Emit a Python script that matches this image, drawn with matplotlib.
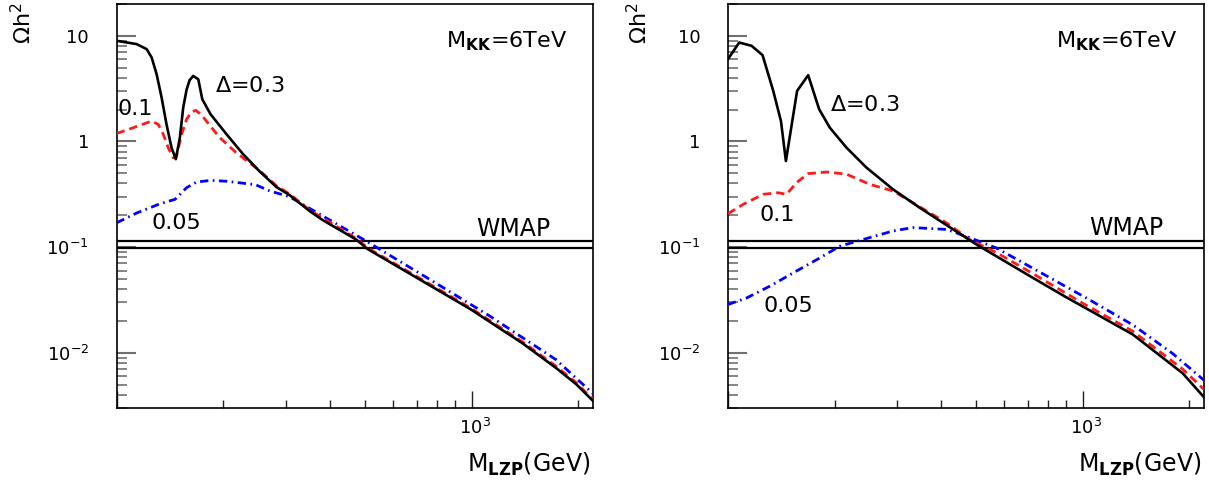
import matplotlib
matplotlib.use("Agg")
import matplotlib.pyplot as plt
from matplotlib.ticker import FixedLocator, NullFormatter, LogLocator
from matplotlib.transforms import ScaledTranslation

# ---------------- data ----------------
# Left panel
xl_black = [100, 113.8, 121.5, 125.5, 129.6, 133.9, 138.2, 142.8, 146.8, 150.7, 154, 157.4, 160.5,
            164.3, 169.8, 174.3, 183.9, 204, 227, 253, 282, 307, 350, 381, 473, 510, 728, 994,
            1392, 1735, 1975, 2178, 2200]
yl_black = [8.97, 8.35, 7.48, 6.23, 4.33, 2.59, 1.45, 0.87, 0.68, 1.09, 2.09, 3.09, 3.8,
            4.17, 3.88, 2.51, 1.81, 1.17, 0.76, 0.52, 0.37, 0.311, 0.219, 0.18, 0.118, 0.0957, 0.0476, 0.0258,
            0.0123, 0.00713, 0.00502, 0.00362, 0.0035]

xl_red = [100, 111.4, 125.5, 131, 135.3, 139.8, 144.3, 147.5, 152.4, 157.4, 162, 167, 173, 179,
          195, 217.5, 253, 282, 307, 350, 473, 510, 728, 994, 1392, 1735, 1975, 2200]
yl_red = [1.19, 1.35, 1.56, 1.45, 1.17, 0.87, 0.70, 0.73, 1.17, 1.62, 1.88, 1.97, 1.80, 1.56,
          1.09, 0.78, 0.53, 0.38, 0.318, 0.224, 0.121, 0.098, 0.049, 0.0265, 0.0127, 0.0074, 0.0052, 0.0036]

xl_blue = [100, 113.8, 132.4, 146, 157.4, 168, 184, 204, 246, 270, 307, 381, 505, 777, 1127, 1730, 2200]
yl_blue = [0.17, 0.21, 0.257, 0.283, 0.365, 0.413, 0.428, 0.42, 0.39, 0.34, 0.30, 0.197, 0.114,
           0.0476, 0.0222, 0.0086, 0.0041]

# Right panel
xr_black = [100, 107.6, 116.6, 125.2, 134.2, 141.1, 145.7, 156.7, 168.4, 180.8, 193.8, 216, 245.9,
            292.2, 347.4, 501.9, 724.4, 900, 1000, 1386, 1916, 2200]
yr_black = [6.01, 8.64, 8.04, 6.56, 3.01, 1.56, 0.653, 3.01, 4.24, 2.02, 1.35, 0.873, 0.565,
            0.352, 0.236, 0.106, 0.0512, 0.0335, 0.0275, 0.0149, 0.0064, 0.0038]

xr_red = [100, 110.4, 125.7, 138.6, 146.3, 156, 168.3, 190, 216, 251, 292, 331, 413, 480, 571,
          725, 1000, 1386, 1916, 2200]
yr_red = [0.207, 0.254, 0.316, 0.327, 0.316, 0.407, 0.496, 0.514, 0.49, 0.393, 0.34, 0.265, 0.17,
          0.118, 0.089, 0.056, 0.0295, 0.0160, 0.0070, 0.0045]

xr_blue = [100, 112.9, 131.3, 156, 181.6, 206.8, 251, 292, 332, 414, 480, 570, 707, 1025,
           1388, 1798, 2200]
yr_blue = [0.0286, 0.033, 0.0427, 0.0593, 0.079, 0.102, 0.123, 0.142, 0.153, 0.147, 0.123, 0.0985,
           0.066, 0.0330, 0.0183, 0.0098, 0.0055]

wmap_band = [0.0986, 0.113]

ytick_vals = [0.01, 0.1, 1, 10]
ytick_labels = [r"$10^{-2}$", r"$10^{-1}$", "1", "10"]
xtick_major = [100, 1000]
xtick_labels = ["", r"$10^{3}$"]
xtick_minor = [200, 300, 400, 500, 600, 700, 800, 900, 2000]

curve_labels_left = [r"$\Delta$=0.3", "0.1", "0.05"]
curve_labels_right = [r"$\Delta$=0.3", "0.1", "0.05"]

# ---------------- figure ----------------
fig = plt.figure(figsize=(12.09, 4.83), dpi=100)
axL = fig.add_axes([0.0965, 0.1553, 0.3940, 0.8364])
axR = fig.add_axes([0.6021, 0.1553, 0.3937, 0.8364])

RED = "#ff1a1a"
BLUE = "#0000ff"


def style(ax):
    ax.set_xscale("log")
    ax.set_yscale("log")
    ax.set_xlim(100, 2200)
    ax.set_ylim(0.003, 20)
    for s in ax.spines.values():
        s.set_linewidth(1.2)
        s.set_color("black")
    ax.yaxis.set_major_locator(FixedLocator(ytick_vals))
    ax.set_yticklabels(ytick_labels)
    ax.yaxis.set_minor_locator(LogLocator(base=10, subs=[2, 3, 4, 5, 6, 7, 8, 9]))
    ax.yaxis.set_minor_formatter(NullFormatter())
    ax.xaxis.set_major_locator(FixedLocator(xtick_major))
    ax.set_xticklabels(xtick_labels)
    ax.xaxis.set_minor_locator(FixedLocator(xtick_minor))
    ax.xaxis.set_minor_formatter(NullFormatter())
    ax.tick_params(axis="y", which="major", direction="in", length=14, width=1.5,
                   color="#707070", labelsize=13, pad=20, left=True, right=False)
    ax.tick_params(axis="y", which="minor", direction="in", length=7, width=1.2,
                   color="#707070", left=True, right=False)
    ax.tick_params(axis="x", which="major", direction="in", length=12, width=1.0,
                   color="#202020", labelsize=13, pad=7, bottom=True, top=False)
    ax.tick_params(axis="x", which="minor", direction="in", length=6, width=1.0,
                   color="#202020", bottom=True, top=False)
    for lab in ax.get_xticklabels():
        lab.set_transform(lab.get_transform() + ScaledTranslation(4 / 100, 0, fig.dpi_scale_trans))
    for yv in wmap_band:
        ax.axhline(yv, color="black", lw=1.6, zorder=3)


def curves(ax, xb, yb, xr, yr, xbl, ybl):
    ax.plot(xbl, ybl, color=BLUE, lw=2.0, dashes=(3.0, 1.6, 0.6, 1.6), zorder=4)
    ax.plot(xr, yr, color=RED, lw=2.0, dashes=(3.0, 1.8), zorder=5)
    ax.plot(xb, yb, color="black", lw=1.9, zorder=6)


style(axL)
style(axR)
curves(axL, xl_black, yl_black, xl_red, yl_red, xl_blue, yl_blue)
curves(axR, xr_black, yr_black, xr_red, yr_red, xr_blue, yr_blue)

FS = 16
# left annotations
axL.text(0.2788, 0.782, curve_labels_left[0], transform=axL.transAxes, ha="center", va="baseline", fontsize=FS)
axL.text(0.002, 0.7252, curve_labels_left[1], transform=axL.transAxes, ha="left", va="baseline", fontsize=FS)
axL.text(0.1245, 0.443, curve_labels_left[2], transform=axL.transAxes, ha="center", va="baseline", fontsize=FS)
axL.text(0.8184, 0.8936, r"M$_{\mathbf{KK}}$=6TeV", transform=axL.transAxes, ha="center", va="baseline", fontsize=FS)
axL.text(0.832, 0.4257, "WMAP", transform=axL.transAxes, ha="center", va="baseline", fontsize=17)

# right annotations
axR.text(0.2878, 0.735, curve_labels_right[0], transform=axR.transAxes, ha="center", va="baseline", fontsize=FS)
axR.text(0.104, 0.463, curve_labels_right[1], transform=axR.transAxes, ha="center", va="baseline", fontsize=FS)
axR.text(0.126, 0.2376, curve_labels_right[2], transform=axR.transAxes, ha="center", va="baseline", fontsize=FS)
axR.text(0.8162, 0.8936, r"M$_{\mathbf{KK}}$=6TeV", transform=axR.transAxes, ha="center", va="baseline", fontsize=FS)
axR.text(0.836, 0.428, "WMAP", transform=axR.transAxes, ha="center", va="baseline", fontsize=17)

# axis titles
for xc in (0.019, 0.528):
    fig.text(xc, 0.994, r"$\Omega$h$^{2}$", rotation=90, ha="center", va="top", fontsize=16)
for xr_ in (0.488, 0.994):
    fig.text(xr_, 0.0228, r"M$_{\mathbf{LZP}}$(GeV)", ha="right", va="baseline", fontsize=17)

fig.savefig("out.png", dpi=100)
